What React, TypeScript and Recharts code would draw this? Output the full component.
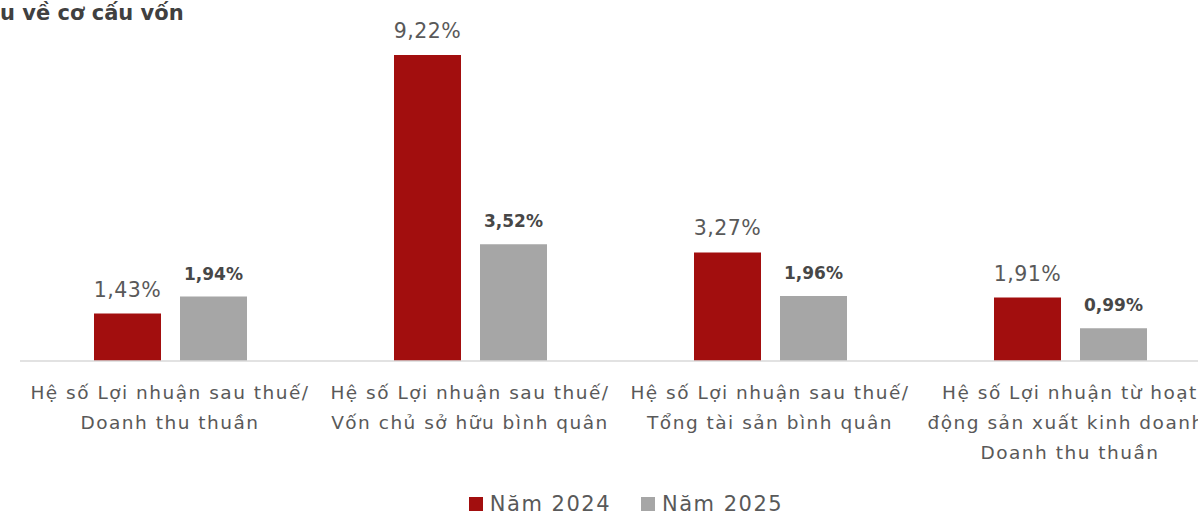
import React from 'react'
import { BarChart, Bar, XAxis, YAxis, Legend, LabelList } from 'recharts'

const categories = [
    ['Hệ số Lợi nhuận sau thuế/', 'Doanh thu thuần'],
    ['Hệ số Lợi nhuận sau thuế/', 'Vốn chủ sở hữu bình quân'],
    ['Hệ số Lợi nhuận sau thuế/', 'Tổng tài sản bình quân'],
    ['Hệ số Lợi nhuận từ hoạt', 'động sản xuất kinh doanh/', 'Doanh thu thuần'],
]
const nam2024 = [1.43, 9.22, 3.27, 1.91]
const nam2025 = [1.94, 3.52, 1.96, 0.99]

const data = categories.map((c, i) => ({ name: i, y2024: nam2024[i], y2025: nam2025[i] }))

const FONT = '"DejaVu Sans", sans-serif'
const RED = '#A20E0E'
const GRAY = '#A6A6A6'

const fmt = (v: number) => `${v.toFixed(2).replace('.', ',')}%`

const CategoryTick = ({ x, y, payload }: any) => {
    const lines = categories[payload.value] || []
    return (
        <text x={x} y={y} textAnchor="middle" fill="#595959" fontSize={18.5} letterSpacing={1.5} fontFamily={FONT}>
            {lines.map((l, i) => (
                <tspan key={i} x={x} dy={i === 0 ? 30 : 30}>{l}</tspan>
            ))}
        </text>
    )
}

const LegendBox = () => (
    <div style={{ width: 1200, boxSizing: 'border-box', display: 'flex', justifyContent: 'center', gap: 30, fontFamily: FONT, fontSize: 21, lineHeight: '24px', letterSpacing: 1.5, color: '#595959', paddingLeft: 12, marginTop: 16 }}>
        {[['Năm 2024', RED], ['Năm 2025', GRAY]].map(([t, c]) => (
            <div key={t} style={{ display: 'flex', alignItems: 'center', gap: 7 }}>
                <span style={{ width: 14, height: 14, background: c, display: 'inline-block' }} />
                <span>{t}</span>
            </div>
        ))}
    </div>
)

export default function App() {
    return (
        <div style={{ position: 'fixed', left: 0, top: 0, width: 1198, height: 516, overflow: 'hidden', background: '#fff' }}>
            <div style={{ position: 'absolute', left: 0, top: 1, fontFamily: FONT, fontWeight: 700, fontSize: 21, color: '#404040', whiteSpace: 'nowrap' }}>
                u về cơ cấu vốn
            </div>
            <BarChart width={1240} height={516} data={data} margin={{ top: 29, right: 20, bottom: 0, left: 20 }} barGap={19} barCategoryGap={73.5}>
                <XAxis dataKey="name" height={115} tick={<CategoryTick />} tickLine={false} axisLine={{ stroke: '#D9D9D9', strokeWidth: 1.5 }} interval={0} />
                <YAxis hide domain={[0, 10]} />
                <Legend verticalAlign="bottom" height={40} content={<LegendBox />} />
                <Bar dataKey="y2024" fill={RED} barSize={67} isAnimationActive={false}>
                    <LabelList dataKey="y2024" position="top" offset={17} formatter={fmt} fill="#595959" fontSize={20.5} letterSpacing={0.5} fontFamily={FONT} />
                </Bar>
                <Bar dataKey="y2025" fill={GRAY} barSize={67} isAnimationActive={false}>
                    <LabelList dataKey="y2025" position="top" offset={17} formatter={fmt} fill="#474747" fontSize={17} fontWeight={700} fontFamily={FONT} />
                </Bar>
            </BarChart>
        </div>
    )
}
